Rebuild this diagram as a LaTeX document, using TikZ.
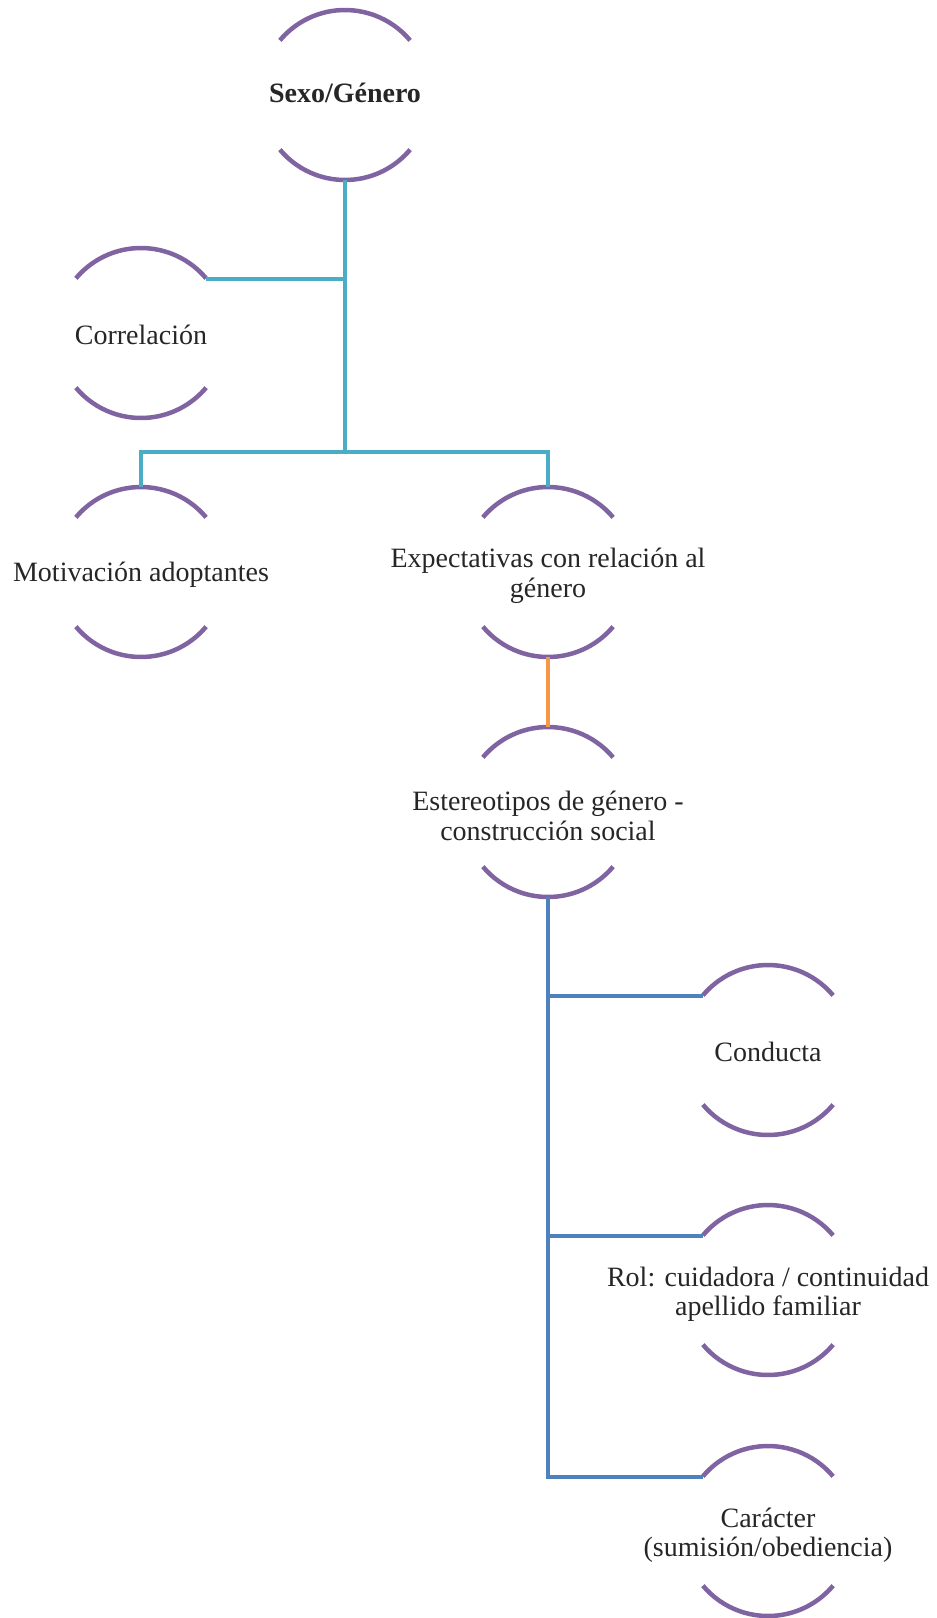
\documentclass[tikz,border=0pt]{standalone}
\usepackage{fontspec}
\setmainfont{Liberation Serif}
\usetikzlibrary{calc}
\definecolor{ringc}{HTML}{8064A2}
\definecolor{tealc}{HTML}{4BACC6}
\definecolor{orangec}{HTML}{F79646}
\definecolor{bluec}{HTML}{4F81BD}
\definecolor{txtc}{HTML}{262626}
\begin{document}
\begin{tikzpicture}[x=1pt,y=1pt,
  lbl/.style={font=\fontsize{28}{29.5}\selectfont, align=center, text=txtc, inner sep=0pt},
  ring/.style={draw=ringc, line width=4.5pt},
  tl/.style={draw=tealc, line width=4pt},
  ol/.style={draw=orangec, line width=4pt},
  bl/.style={draw=bluec, line width=4pt}]
\useasboundingbox (0,0) rectangle (937,-1618);
% ring centres
\coordinate (sexo) at (345,-95);
\coordinate (corr) at (141,-333);
\coordinate (motiv) at (141,-572);
\coordinate (expect) at (548,-572);
\coordinate (ester) at (548,-812);
\coordinate (cond) at (768,-1050);
\coordinate (rol) at (768,-1290);
\coordinate (car) at (768,-1531);
% labels
\node[lbl,font=\fontsize{28}{29.5}\selectfont\bfseries,yshift=2pt] (sexo-txt) at (sexo) {Sexo/Género};
\node[lbl,yshift=-2pt] (corr-txt) at (corr) {Correlación};
\node[lbl,yshift=-3pt] (motiv-txt) at (motiv) {Motivación adoptantes};
\node[lbl,yshift=-4pt] (expect-txt) at (expect) {Expectativas con relación al\\género};
\node[lbl,yshift=-4pt] (ester-txt) at (ester) {Estereotipos de género -\\construcción social};
\node[lbl,yshift=-2pt] (cond-txt) at (cond) {Conducta};
\node[lbl,yshift=-4pt] (rol-txt) at (rol) {Rol: cuidadora / continuidad\\apellido familiar};
\node[lbl,yshift=-4pt] (car-txt) at (car) {Carácter\\(sumisión/obediencia)};
\foreach \n in {sexo,corr,motiv,expect,ester,cond,rol,car}{
  \draw[ring] ($(\n)+(40:85)$) arc[start angle=40,end angle=140,radius=85];
  \draw[ring] ($(\n)+(220:85)$) arc[start angle=220,end angle=320,radius=85];
  \coordinate (\n-t) at ($(\n)+(0,85)$);
  \coordinate (\n-b) at ($(\n)+(0,-85)$);
  \coordinate (\n-l) at ($(\n)+(-65,54)$);
  \coordinate (\n-r) at ($(\n)+(65,54)$);
}
\coordinate (split) at (345,-452);
\draw[tl] (sexo-b) -- (split);
\draw[tl] (corr-r) -- (corr-r -| sexo-b);
\draw[tl] (motiv-t) |- (split) -| (expect-t);
\draw[ol] (expect-b) -- (ester-t);
\draw[bl] (ester-b) |- (car-l);
\draw[bl] (cond-l) -- (cond-l -| ester-b);
\draw[bl] (rol-l) -- (rol-l -| ester-b);
\end{tikzpicture}
\end{document}
